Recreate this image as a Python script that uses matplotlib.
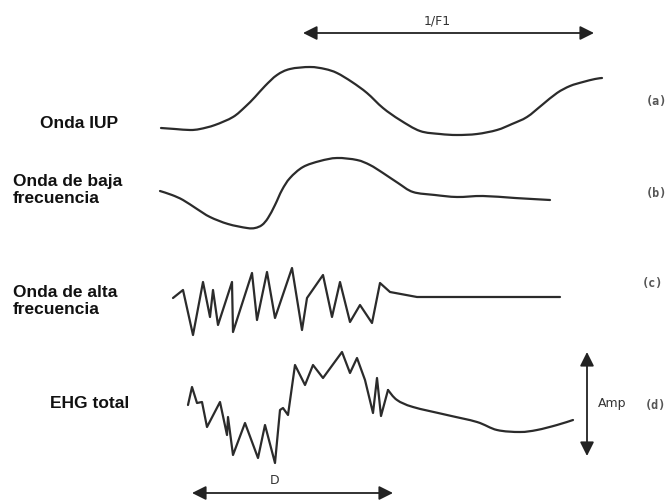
import matplotlib
matplotlib.use("Agg")
import matplotlib.pyplot as plt
from matplotlib.path import Path
from matplotlib.patches import PathPatch

# Waveform traces (pixel coordinates of the schematic)
iup_x = [161, 175, 190, 200, 215, 233, 245, 255, 265, 277, 290, 310, 325, 337, 352, 367, 383, 400, 420, 440,
         457, 477, 497, 512, 527, 542, 557, 570, 583, 595, 602]
iup_y = [128, 129, 130, 129, 125, 117, 107, 97, 86, 75, 69, 67, 69, 73, 82, 93, 108, 120, 131, 134,
         135, 134, 130, 124, 117, 105, 93, 86, 82, 79, 78]

low_x = [160, 172, 183, 197, 210, 228, 247, 255, 262, 268, 275, 282, 290, 303, 320, 337, 357, 370, 383, 398,
         413, 435, 457, 483, 515, 550]
low_y = [191, 195, 200, 209, 217, 224, 228, 228, 225, 218, 205, 190, 178, 167, 161, 158, 160, 165, 173, 183,
         192, 195, 197, 196, 198, 200]

high_x = [173, 183, 193, 203, 210, 213, 218, 232, 233, 252, 257, 267, 275, 292, 302, 307, 323, 332, 340, 350,
          360, 372, 380, 390, 417, 470, 560]
high_y = [298, 290, 335, 282, 317, 290, 325, 282, 332, 273, 320, 272, 318, 268, 330, 298, 275, 317, 282, 322,
          305, 323, 283, 292, 297, 297, 297]

# EHG total: oscillating part, then the slow decaying tail
ehg_x = [188, 192, 197, 202, 207, 220, 227, 228, 233, 245, 258, 265, 275, 280, 283, 288, 295, 305, 313, 323,
         342, 350, 357, 365, 373, 377, 381, 388]
ehg_y = [405, 387, 403, 402, 427, 402, 435, 417, 455, 423, 458, 425, 463, 410, 408, 415, 365, 385, 365, 378,
         352, 373, 358, 380, 413, 378, 416, 390]
ehg_tail_x = [388, 397, 413, 447, 477, 497, 520, 537, 557, 573]
ehg_tail_y = [390, 400, 407, 415, 422, 430, 432, 430, 425, 420]

row_labels = ["Onda IUP", "Onda de baja\nfrecuencia", "Onda de alta\nfrecuencia", "EHG total"]
row_tags = ["(a)", "(b)", "(c)", "(d)"]

fig = plt.figure(figsize=(6.69, 5.0), dpi=100)
ax = fig.add_axes([0, 0, 1, 1])
ax.set_xlim(0, 669)
ax.set_ylim(500, 0)
ax.axis("off")

lc = "#2b2b2b"


def smooth_path(xs, ys):
    """Cubic Bezier path through the given points (Catmull-Rom control points)."""
    pts = list(zip(xs, ys))
    verts = [pts[0]]
    codes = [Path.MOVETO]
    n = len(pts)
    for i in range(n - 1):
        p0 = pts[i - 1] if i > 0 else pts[i]
        p1 = pts[i]
        p2 = pts[i + 1]
        p3 = pts[i + 2] if i + 2 < n else pts[i + 1]
        c1 = (p1[0] + (p2[0] - p0[0]) / 6.0, p1[1] + (p2[1] - p0[1]) / 6.0)
        c2 = (p2[0] - (p3[0] - p1[0]) / 6.0, p2[1] - (p3[1] - p1[1]) / 6.0)
        verts += [c1, c2, p2]
        codes += [Path.CURVE4] * 3
    return Path(verts, codes)


for xs, ys in [(iup_x, iup_y), (low_x, low_y), (ehg_tail_x, ehg_tail_y)]:
    ax.add_patch(PathPatch(smooth_path(xs, ys), facecolor="none", edgecolor=lc, lw=1.6,
                           capstyle="round", joinstyle="round"))

for xs, ys in [(high_x, high_y), (ehg_x, ehg_y)]:
    ax.plot(xs, ys, color=lc, lw=1.6, solid_joinstyle="round", solid_capstyle="round")

lab_font = dict(family=["Liberation Sans", "DejaVu Sans"], fontweight="bold", fontsize=12.5, color="#111111")
ax.text(40, 123, row_labels[0], ha="left", va="center", **lab_font)
ax.text(13, 190, row_labels[1], ha="left", va="center", linespacing=1.2, **lab_font)
ax.text(13, 301, row_labels[2], ha="left", va="center", linespacing=1.2, **lab_font)
ax.text(50, 404, row_labels[3], ha="left", va="center", **lab_font)

tag_font = dict(family=["DejaVu Sans Mono"], fontsize=8.5, fontweight="bold", color="#555555")
for tag, (tx, ty) in zip(row_tags, [(656, 102), (656, 194), (652, 283), (655, 405)]):
    ax.text(tx, ty, tag, ha="center", va="center", **tag_font)

ann_font = dict(family=["DejaVu Sans"], fontsize=9, color="#333333")
arrow = dict(arrowstyle="<|-|>,head_length=0.6,head_width=0.3", color="#222222", lw=1.3,
             mutation_scale=14, shrinkA=0, shrinkB=0)

ax.annotate("", xy=(303, 33), xytext=(594, 33), arrowprops=arrow)
ax.text(437, 21, "1/F1", ha="center", va="center", **ann_font)

ax.annotate("", xy=(192, 493), xytext=(393, 493), arrowprops=arrow)
ax.text(275, 481, "D", ha="center", va="center", **ann_font)

ax.annotate("", xy=(587, 352), xytext=(587, 456), arrowprops=arrow)
ax.text(612, 404, "Amp", ha="center", va="center", **ann_font)

fig.savefig("out.png", dpi=100, facecolor="white")
